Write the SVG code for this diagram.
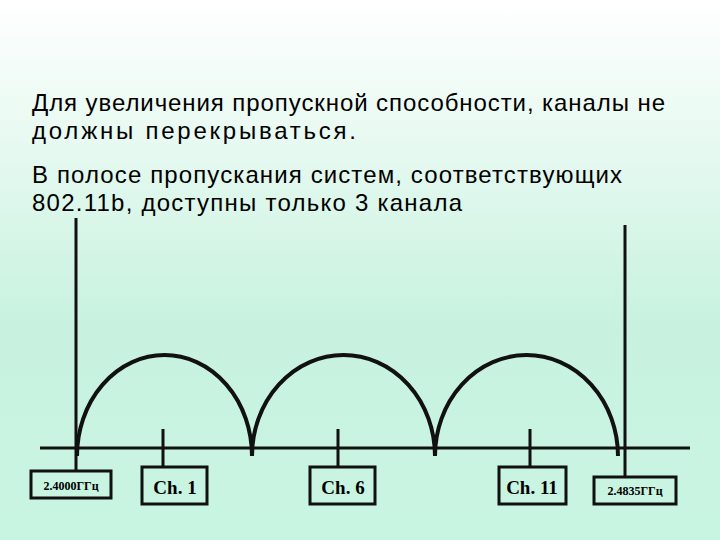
<svg xmlns="http://www.w3.org/2000/svg" width="720" height="540" viewBox="0 0 720 540">
<defs>
<linearGradient id="bg" x1="0" y1="0" x2="0" y2="1">
<stop offset="0" stop-color="#ffffff"/>
<stop offset="0.6" stop-color="#c8f2df"/>
<stop offset="1" stop-color="#c8f5e2"/>
</linearGradient>
<style>
.t{font-family:"Liberation Sans",Arial,sans-serif;font-size:24px;fill:#000}
.l{stroke:#111;stroke-width:3;fill:none}
.a{stroke:#111;stroke-width:4;fill:none}
.b{fill:none;stroke:#111;stroke-width:3}
.bt{font-family:"Liberation Serif","Times New Roman",serif;font-weight:bold;fill:#000;text-anchor:middle}
</style>
</defs>
<rect width="720" height="540" fill="url(#bg)"/>
<text class="t" x="32" y="111" textLength="633" lengthAdjust="spacing">Для увеличения пропускной способности, каналы не</text>
<text class="t" x="32" y="139" textLength="324" lengthAdjust="spacing">должны перекрываться.</text>
<text class="t" x="32" y="183" textLength="590" lengthAdjust="spacing">В полосе пропускания систем, соответствующих</text>
<text class="t" x="32" y="211" textLength="430" lengthAdjust="spacing">802.11b, доступны только  3 канала</text>
<g id="connectors">
<line class="l" x1="40" y1="448" x2="690" y2="448"/>
<line class="l" x1="76" y1="218" x2="76" y2="470"/>
<line class="l" x1="625" y1="225" x2="625" y2="476"/>
<line class="l" x1="163" y1="429" x2="163" y2="466"/>
<line class="l" x1="338" y1="429" x2="338" y2="466"/>
<line class="l" x1="530" y1="429" x2="530" y2="466"/>
<path class="a" d="M77 456 A87.5 101 0 0 1 252 456"/>
<path class="a" d="M252 456 A91.5 101 0 0 1 435 456"/>
<path class="a" d="M435 456 A91.5 101 0 0 1 618 456"/>
</g>
<g id="f1"><rect class="b" x="31" y="471" width="80" height="27"/><text class="bt" x="71" y="490" font-size="12">2.4000ГГц</text></g>
<g id="ch1"><rect class="b" x="142" y="467" width="65" height="37"/><text class="bt" x="175" y="494" font-size="19">Ch. 1</text></g>
<g id="ch6"><rect class="b" x="310" y="467" width="65" height="37"/><text class="bt" x="343" y="494" font-size="19">Ch. 6</text></g>
<g id="ch11"><rect class="b" x="499" y="467" width="67" height="37"/><text class="bt" x="532" y="494" font-size="19">Ch. 11</text></g>
<g id="f2"><rect class="b" x="594" y="477" width="82" height="27"/><text class="bt" x="635" y="495" font-size="12">2.4835ГГц</text></g>
</svg>
